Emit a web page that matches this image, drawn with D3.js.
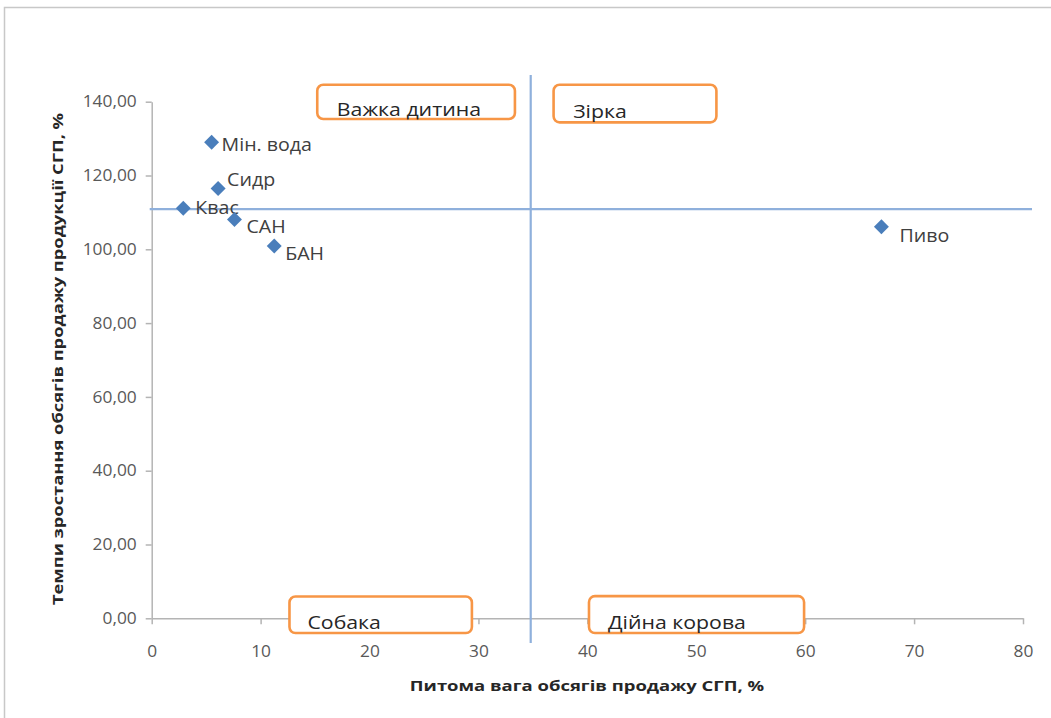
<!DOCTYPE html>
<html><head><meta charset="utf-8">
<script src="https://cdnjs.cloudflare.com/ajax/libs/d3/7.8.5/d3.min.js"></script>
<style>body{margin:0;background:#fff}svg{display:block}</style>
</head><body>
<svg id="c" width="1051" height="718"></svg>
<script>
// ---- data ----
const names = ["Мін. вода", "Сидр", "Квас", "САН", "БАН", "Пиво"];
const shareX = [5.5, 6.1, 2.9, 7.6, 11.25, 67.0];
const growthY = [129.0, 116.5, 111.1, 108.1, 100.9, 106.1];
const xTicks = [0, 10, 20, 30, 40, 50, 60, 70, 80];
const yTicks = [0, 20, 40, 60, 80, 100, 120, 140];
const dividerX = 34.8;
const dividerY = 110.9;
const quadrantNames = ["Важка дитина", "Зірка", "Собака", "Дійна корова"];
const xTitle = "Питома вага обсягів продажу СГП, %";
const yTitle = "Темпи зростання обсягів продажу продукції СГП, %";

// ---- layout ----
const svg = d3.select("#c");
const font = "'Open Sans', 'Liberation Sans', Arial, sans-serif";
const pL = 151.7, pR = 1023, pT = 101.7, pB = 618.3;
const x = d3.scaleLinear().domain([0, 80]).range([pL, pR]);
const y = d3.scaleLinear().domain([0, 140]).range([pB, pT]);

function stretch(sel, sx) {
  sel.each(function () {
    const L = this.getComputedTextLength();
    this.setAttribute("textLength", L * sx);
    this.setAttribute("lengthAdjust", "spacingAndGlyphs");
  });
}

// outer frame
svg.append("rect").attr("x", 4.5).attr("y", 7.5).attr("width", 1200).attr("height", 900)
  .attr("fill", "none").attr("stroke", "#c8c8c8").attr("stroke-width", 1.5);

// axes
const fmt = d => d.toFixed(2).replace(".", ",");
const gy = svg.append("g").attr("transform", `translate(${pL},0)`)
  .call(d3.axisLeft(y).tickValues(yTicks).tickFormat(fmt).tickSize(6).tickSizeOuter(0).tickPadding(9));
const gx = svg.append("g").attr("transform", `translate(0,${pB})`)
  .call(d3.axisBottom(x).tickValues(xTicks).tickFormat(d3.format("d")).tickSize(6).tickSizeOuter(0).tickPadding(21));
[gx, gy].forEach(g => {
  g.selectAll("path,line").attr("stroke", "#b4b4b4").attr("stroke-width", 1.5);
  g.selectAll("text").attr("fill", "#595959").style("font-family", font).style("font-size", "16.5px");
  stretch(g.selectAll("text"), 1.05);
});

// divider lines
svg.append("line").attr("x1", pL - 2).attr("x2", 1032).attr("y1", y(dividerY)).attr("y2", y(dividerY))
  .attr("stroke", "#8fb0dc").attr("stroke-width", 2.2);
svg.append("line").attr("x1", x(dividerX)).attr("x2", x(dividerX)).attr("y1", 75).attr("y2", 643)
  .attr("stroke", "#8fb0dc").attr("stroke-width", 2.2);

// quadrant boxes
const boxes = [
  {x0: 15.2, x1: 33.35, y0: 144.6, y1: 135.3, tx: 17.0, ty: 136.2},
  {x0: 36.9, x1: 51.85, y0: 144.6, y1: 134.4, tx: 38.7, ty: 135.6},
  {x0: 12.65, x1: 29.4, y0: 5.9, y1: -4.0, tx: 14.3, ty: -3.0},
  {x0: 40.15, x1: 59.9, y0: 6.0, y1: -4.0, tx: 41.9, ty: -3.0}
];
boxes.forEach((b, i) => {
  svg.append("rect").attr("x", x(b.x0)).attr("y", y(b.y0))
    .attr("width", x(b.x1) - x(b.x0)).attr("height", y(b.y1) - y(b.y0))
    .attr("rx", 6).attr("fill", "#fff").attr("stroke", "#f79646").attr("stroke-width", 2.6);
  const t = svg.append("text").attr("x", x(b.tx)).attr("y", y(b.ty)).text(quadrantNames[i])
    .attr("fill", "#262626").style("font-family", font).style("font-size", "18.5px");
  stretch(t, 1.15);
});

// points
const labelOff = [[10, 9], [9, -2], [12, 6], [12, 14], [11, 14], [18, 15]];
const pts = svg.append("g");
names.forEach((n, i) => {
  pts.append("path").attr("d", d3.symbol(d3.symbolSquare, 112)())
    .attr("transform", `translate(${x(shareX[i])},${y(growthY[i])}) rotate(45)`)
    .attr("fill", "#4a7ebb");
  const t = pts.append("text").attr("x", x(shareX[i]) + labelOff[i][0]).attr("y", y(growthY[i]) + labelOff[i][1])
    .text(n).attr("fill", "#404040").style("font-family", font).style("font-size", "17.5px");
  stretch(t, 1.12);
});

// axis titles
const tx = svg.append("text").attr("x", 587).attr("y", 691).attr("text-anchor", "middle").text(xTitle)
  .attr("fill", "#262626").style("font-family", font).style("font-size", "15px").style("font-weight", "bold");
stretch(tx, 1.23);
const ty = svg.append("text").attr("transform", "translate(63,359) rotate(-90)").attr("text-anchor", "middle").text(yTitle)
  .attr("fill", "#262626").style("font-family", font).style("font-size", "15px").style("font-weight", "bold");
stretch(ty, 1.22);
</script>
</body></html>
